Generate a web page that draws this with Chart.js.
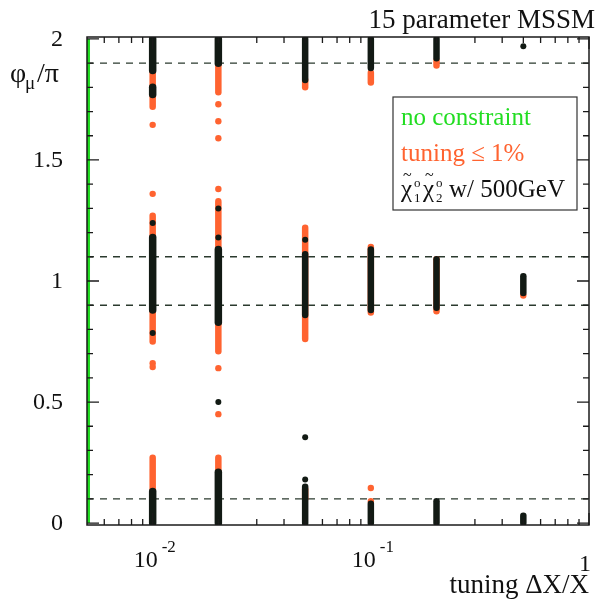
<!DOCTYPE html>
<html>
<head>
<meta charset="utf-8">
<script src="https://cdn.jsdelivr.net/npm/chart.js@4/dist/chart.umd.min.js"></script>
<style>
  html, body { margin: 0; padding: 0; background: #fff; }
  #wrap { width: 603px; height: 605px; }
</style>
</head>
<body>
<div id="wrap"><canvas id="c" width="603" height="605"></canvas></div>
<script>
/* phi_mu / pi versus tuning, 15 parameter MSSM */

// black: chi1 chi2 w/ 500GeV - dense stretches (x, from, to) and single points
const blackSegX  = [0.01, 0.01, 0.01, 0.01, 0.02, 0.02, 0.02, 0.05, 0.05, 0.05, 0.1, 0.1, 0.1, 0.2, 0.2, 0.2, 0.5, 0.5];
const blackSegLo = [1.87, 1.77, 0.88, 0.00, 1.90, 0.83, 0.00, 1.83, 0.86, 0.00, 1.88, 0.88, 0.00, 1.92, 0.89, 0.00, 0.95, 0.00];
const blackSegHi = [2.00, 1.80, 1.18, 0.13, 2.00, 1.13, 0.21, 2.00, 1.11, 0.15, 2.00, 1.13, 0.08, 2.00, 1.09, 0.09, 1.02, 0.03];
const blackPtX = [0.01, 0.01, 0.02, 0.02, 0.02, 0.05, 0.05, 0.05, 0.5];
const blackPtY = [1.24, 0.785, 1.30, 1.18, 0.50, 1.17, 0.355, 0.18, 1.97];

// orange: tuning <= 1%
const orangeSegX  = [0.01, 0.01, 0.01, 0.02, 0.02, 0.02, 0.05, 0.05, 0.05, 0.1, 0.1, 0.2, 0.2];
const orangeSegLo = [1.72, 0.75, 0.14, 1.78, 0.71, 0.21, 1.80, 0.76, 0.10, 1.82, 0.87, 1.89, 0.875];
const orangeSegHi = [1.87, 1.27, 0.27, 1.90, 1.32, 0.27, 1.83, 1.22, 0.14, 1.86, 1.14, 1.91, 1.09];
const orangePtX = [0.01, 0.01, 0.01, 0.01, 0.02, 0.02, 0.02, 0.02, 0.02, 0.02, 0.02, 0.1, 0.1, 0.5];
const orangePtY = [1.645, 1.36, 0.66, 0.645, 1.73, 1.66, 1.59, 1.38, 1.33, 0.64, 0.45, 0.145, 0.09, 0.94];

// green: no constraint (all sit at the left edge)
const greenX = 0.00508;
const greenY = [0.00, 0.04, 0.09, 0.15, 0.22, 0.28, 0.33, 0.41, 0.47, 0.52, 0.60, 0.66, 0.71, 0.78, 0.85,
                0.90, 0.97, 1.03, 1.10, 1.16, 1.22, 1.29, 1.35, 1.41, 1.47, 1.53, 1.60, 1.66, 1.72, 1.79,
                1.84, 1.91, 1.96, 2.00];

// dashed reference lines
const refY = [0.1, 0.9, 1.1, 1.9];

// axis ticks
const xMajor = [0.01, 0.1, 1];
const xMajorExp = ['-2', '-1', ''];
const xMinor = [0.006, 0.007, 0.008, 0.009, 0.02, 0.03, 0.04, 0.05, 0.06, 0.07, 0.08, 0.09,
                0.2, 0.3, 0.4, 0.5, 0.6, 0.7, 0.8, 0.9];
const yMajor = [0, 0.5, 1, 1.5, 2];
const yMajorLabels = ['0', '0.5', '1', '1.5', '2'];
const yMinor = [0.1, 0.2, 0.3, 0.4, 0.6, 0.7, 0.8, 0.9, 1.1, 1.2, 1.3, 1.4, 1.6, 1.7, 1.8, 1.9];

const BLACK = '#121a14';
const ORANGE = '#ff6330';
const GREEN = '#22dd22';
const SERIF = '"Liberation Serif", "DejaVu Serif", serif';

const datasets = [];

blackSegX.forEach((x, i) => {
    datasets.push({
        data: [{ x: x, y: blackSegLo[i] }, { x: x, y: blackSegHi[i] }],
        showLine: true, borderColor: BLACK, borderWidth: x < 0.03 ? 7.5 : 6.5, borderCapStyle: 'round',
        pointRadius: 0, order: 0
    });
});
datasets.push({
    data: blackPtX.map((x, i) => ({ x: x, y: blackPtY[i] })),
    pointRadius: 3, backgroundColor: BLACK, borderWidth: 0, order: 0
});

orangeSegX.forEach((x, i) => {
    datasets.push({
        data: [{ x: x, y: orangeSegLo[i] }, { x: x, y: orangeSegHi[i] }],
        showLine: true, borderColor: ORANGE, borderWidth: 6.5, borderCapStyle: 'round',
        pointRadius: 0, order: 1
    });
});
datasets.push({
    data: orangePtX.map((x, i) => ({ x: x, y: orangePtY[i] })),
    pointRadius: 3.2, backgroundColor: ORANGE, borderWidth: 0, order: 1
});

datasets.push({
    data: greenY.map(y => ({ x: greenX, y: y })),
    showLine: true, borderColor: GREEN, borderWidth: 3,
    pointRadius: 0, order: 2
});

refY.forEach(y => {
    datasets.push({
        data: [{ x: 0.005, y: y }, { x: 1, y: y }],
        showLine: true, borderColor: '#2b3a2e', borderWidth: 1.4, borderDash: [7, 6],
        pointRadius: 0, order: 3
    });
});

const framePlugin = {
    id: 'frame',
    afterDraw(chart) {
        const ctx = chart.ctx;
        const xs = chart.scales.x, ys = chart.scales.y;
        const a = chart.chartArea;
        ctx.save();
        ctx.strokeStyle = '#1a1a1a';
        ctx.lineWidth = 1.5;
        ctx.strokeRect(a.left, a.top, a.right - a.left, a.bottom - a.top);

        ctx.lineWidth = 1.3;
        ctx.beginPath();
        xMajor.forEach(v => {
            const px = xs.getPixelForValue(v);
            ctx.moveTo(px, a.bottom); ctx.lineTo(px, a.bottom - 12);
            ctx.moveTo(px, a.top); ctx.lineTo(px, a.top + 12);
        });
        xMinor.forEach(v => {
            const px = xs.getPixelForValue(v);
            ctx.moveTo(px, a.bottom); ctx.lineTo(px, a.bottom - 6);
            ctx.moveTo(px, a.top); ctx.lineTo(px, a.top + 6);
        });
        yMajor.forEach(v => {
            const py = ys.getPixelForValue(v);
            ctx.moveTo(a.left, py); ctx.lineTo(a.left + 12, py);
            ctx.moveTo(a.right, py); ctx.lineTo(a.right - 12, py);
        });
        yMinor.forEach(v => {
            const py = ys.getPixelForValue(v);
            ctx.moveTo(a.left, py); ctx.lineTo(a.left + 6, py);
            ctx.moveTo(a.right, py); ctx.lineTo(a.right - 6, py);
        });
        ctx.stroke();

        // y tick labels
        ctx.fillStyle = '#111';
        ctx.font = '24px ' + SERIF;
        ctx.textAlign = 'right';
        ctx.textBaseline = 'middle';
        yMajor.forEach((v, i) => {
            ctx.fillText(yMajorLabels[i], 63, ys.getPixelForValue(v) + 1);
        });

        // x tick labels with exponents
        ctx.textBaseline = 'alphabetic';
        xMajor.forEach((v, i) => {
            const px = xs.getPixelForValue(v);
            if (xMajorExp[i]) {
                ctx.font = '24px ' + SERIF;
                ctx.textAlign = 'right';
                ctx.fillText('10', px + 5, 567);
                ctx.font = '17px ' + SERIF;
                ctx.textAlign = 'left';
                ctx.fillText(xMajorExp[i], px + 9, 552);
            } else {
                ctx.font = '24px ' + SERIF;
                ctx.textAlign = 'right';
                ctx.fillText('1', px + 2, 571);
            }
        });

        // axis titles
        ctx.font = '27px ' + SERIF;
        ctx.textAlign = 'right';
        ctx.fillText('tuning \u0394X/X', 589, 593);
        ctx.fillText('15 parameter MSSM', 595, 28);

        ctx.textAlign = 'left';
        ctx.font = '28px ' + SERIF;
        ctx.fillText('\u03C6', 10, 82);
        ctx.font = '19px ' + SERIF;
        ctx.fillText('\u03BC', 25, 89);
        ctx.font = '28px ' + SERIF;
        ctx.fillText('/\u03C0', 37, 82);

        // legend box
        ctx.strokeStyle = '#333';
        ctx.lineWidth = 1.2;
        ctx.strokeRect(393, 97, 184, 113);
        ctx.font = '25px ' + SERIF;
        ctx.fillStyle = GREEN;
        ctx.fillText('no constraint', 401, 125);
        ctx.fillStyle = ORANGE;
        ctx.fillText('tuning \u2264 1%', 401, 161);
        ctx.fillStyle = '#111';
        let tx = 401;
        ['1', '2'].forEach(sub => {
            ctx.font = '25px ' + SERIF;
            ctx.fillText('\u03C7', tx, 197);
            ctx.font = '16px ' + SERIF;
            ctx.fillText('~', tx + 2, 180);
            ctx.font = '13px ' + SERIF;
            ctx.fillText('o', tx + 13, 187);
            ctx.fillText(sub, tx + 13, 202);
            tx += 22;
        });
        ctx.font = '25px ' + SERIF;
        ctx.fillText('w/ 500GeV', tx + 4, 197);
        ctx.restore();
    }
};

new Chart(document.getElementById('c'), {
    type: 'scatter',
    data: { datasets: datasets },
    options: {
        responsive: false,
        animation: false,
        layout: { padding: { left: 87, right: 14, top: 37, bottom: 80 } },
        scales: {
            x: { type: 'logarithmic', min: 0.005, max: 1, display: false },
            y: { type: 'linear', min: -0.008, max: 2.008, display: false }
        },
        plugins: { legend: { display: false }, tooltip: { enabled: false } }
    },
    plugins: [framePlugin]
});
</script>
</body>
</html>
